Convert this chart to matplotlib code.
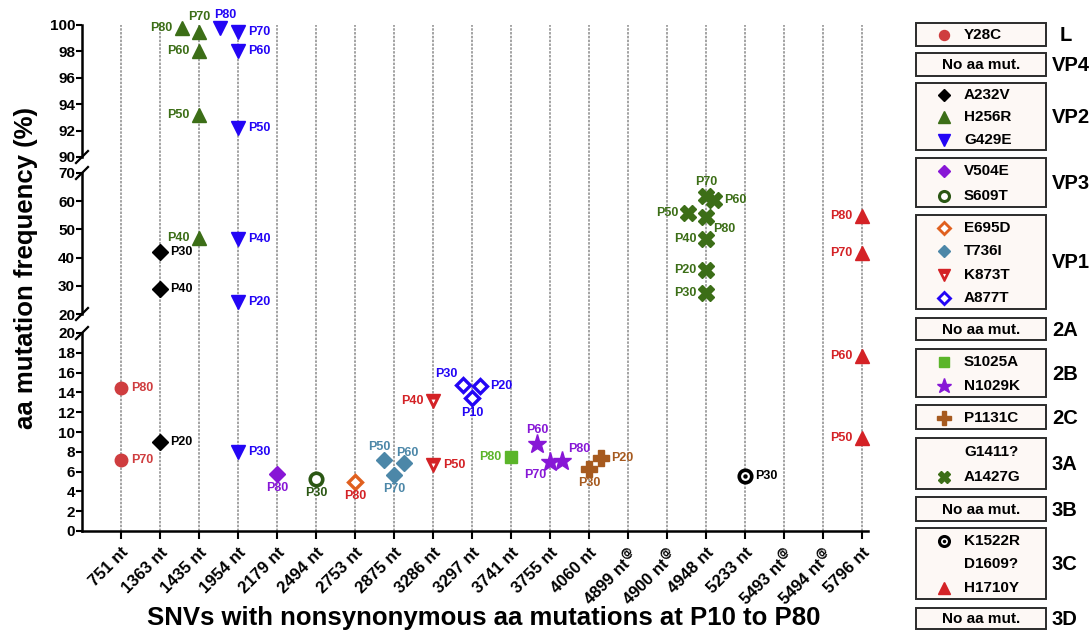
import matplotlib
matplotlib.use('Agg')
import matplotlib.pyplot as plt
from matplotlib.patches import Rectangle

plt.rcParams['font.family'] = ['Liberation Sans', 'DejaVu Sans']
plt.rcParams['font.weight'] = 'bold'

# ---------------- data ----------------
sites = ['751 nt', '1363 nt', '1435 nt', '1954 nt', '2179 nt', '2494 nt', '2753 nt',
         '2875 nt', '3286 nt', '3297 nt', '3741 nt', '3755 nt', '4060 nt', '4899 nt@',
         '4900 nt@', '4948 nt', '5233 nt', '5493 nt@', '5494 nt@', '5796 nt']

Y28C_site = '751 nt'
Y28C_pass = ['P80', 'P70']
Y28C_freq = [14.4, 7.2]

A232V_site = '1363 nt'
A232V_pass = ['P30', 'P40', 'P20']
A232V_freq = [42.0, 28.9, 9.0]

H256R_site = '1435 nt'
H256R_pass = ['P80', 'P70', 'P60', 'P50', 'P40']
H256R_freq = [99.8, 99.5, 98.0, 93.2, 47.0]

G429E_site = '1954 nt'
G429E_pass = ['P80', 'P70', 'P60', 'P50', 'P40', 'P20', 'P30']
G429E_freq = [99.8, 99.5, 98.0, 92.2, 46.6, 24.3, 8.0]

V504E_site = '2179 nt'
V504E_pass = ['P80']
V504E_freq = [5.8]

S609T_site = '2494 nt'
S609T_pass = ['P30']
S609T_freq = [5.3]

E695D_site = '2753 nt'
E695D_pass = ['P80']
E695D_freq = [5.0]

T736I_site = '2875 nt'
T736I_pass = ['P50', 'P60', 'P70']
T736I_freq = [7.2, 6.9, 5.7]

K873T_site = '3286 nt'
K873T_pass = ['P40', 'P50']
K873T_freq = [13.1, 6.7]

A877T_site = '3297 nt'
A877T_pass = ['P30', 'P20', 'P10']
A877T_freq = [14.7, 14.6, 13.4]

S1025A_site = '3741 nt'
S1025A_pass = ['P80']
S1025A_freq = [7.5]

N1029K_site = '3755 nt'
N1029K_pass = ['P60', 'P70', 'P80']
N1029K_freq = [8.8, 7.0, 7.1]

P1131C_site = '4060 nt'
P1131C_pass = ['P30', 'P20']
P1131C_freq = [6.3, 7.4]

A1427G_site = '4948 nt'
A1427G_pass = ['P70', 'P60', 'P50', 'P80', 'P40', 'P20', 'P30']
A1427G_freq = [61.8, 60.3, 55.8, 54.3, 46.6, 35.6, 27.5]

K1522R_site = '5233 nt'
K1522R_pass = ['P30']
K1522R_freq = [5.6]

H1710Y_site = '5796 nt'
H1710Y_pass = ['P80', 'P70', 'P60', 'P50']
H1710Y_freq = [54.6, 41.8, 17.7, 9.4]

# ---------------- styles / placement ----------------
RED = '#cf3d3f'
DKRED = '#d42226'
GREEN = '#3c6e17'
BLUE = '#2305f5'
PURPLE = '#8717d6'
DKGREEN = '#2b5714'
ORANGE = '#e0601f'
STEEL = '#4c87a8'
LIME = '#5bb52a'
BROWN = '#a65a1f'

styles = {
    'Y28C': dict(marker='o', ms=9, mfc=RED, mec=RED),
    'A232V': dict(marker='D', ms=8, mfc='black', mec='black'),
    'H256R': dict(marker='^', ms=10, mfc=GREEN, mec=GREEN),
    'G429E': dict(marker='v', ms=10, mfc=BLUE, mec=BLUE),
    'V504E': dict(marker='D', ms=8, mfc=PURPLE, mec=PURPLE),
    'S609T': dict(marker='o', ms=9, mfc='white', mec=DKGREEN, mew=2.6),
    'E695D': dict(marker='D', ms=7.5, mfc='white', mec=ORANGE, mew=2.4),
    'T736I': dict(marker='D', ms=8, mfc=STEEL, mec=STEEL),
    'K873T': dict(marker='v', ms=10.5, mfc=DKRED, mec=DKRED),
    'A877T': dict(marker='D', ms=7.5, mfc='white', mec=BLUE, mew=2.4),
    'S1025A': dict(marker='s', ms=9, mfc=LIME, mec=LIME),
    'N1029K': dict(marker='*', ms=14, mfc=PURPLE, mec=PURPLE),
    'P1131C': dict(marker='P', ms=12, mfc=BROWN, mec=BROWN),
    'A1427G': dict(marker='X', ms=11, mfc=GREEN, mec=GREEN),
    'K1522R': dict(marker='o', ms=9, mfc='white', mec='black', mew=2.6),
    'H1710Y': dict(marker='^', ms=10, mfc=DKRED, mec=DKRED),
}
# small inner dots drawn on top of some markers
inner = {
    'K873T': dict(marker='v', ms=2.8, mfc='white', mec='white', mew=0),
    'K1522R': dict(marker='o', ms=3.2, mfc='black', mec='black', mew=0),
}
label_colors = {'Y28C': RED, 'A232V': 'black', 'H256R': GREEN, 'G429E': BLUE,
                'V504E': PURPLE, 'S609T': DKGREEN, 'E695D': DKRED, 'T736I': STEEL,
                'K873T': DKRED, 'A877T': BLUE, 'S1025A': LIME, 'N1029K': PURPLE,
                'P1131C': BROWN, 'A1427G': GREEN, 'K1522R': 'black', 'H1710Y': DKRED}

# horizontal jitter (category units) and label placement
jitter = {
    'H256R': [-0.44, 0, 0, 0, 0],
    'G429E': [-0.46, 0, 0, 0, 0, 0, 0],
    'T736I': [-0.26, 0.26, 0],
    'A877T': [-0.23, 0.21, 0],
    'N1029K': [-0.33, 0, 0.31],
    'P1131C': [0, 0.31],
    'A1427G': [0, 0.2, -0.46, 0, 0, 0, 0],
}
offsets = {'r': ((7, 0), 'left', 'center'), 'l': ((-7, 0), 'right', 'center'),
           'a': ((0, 6), 'center', 'bottom'), 'b': ((0, -6), 'center', 'top'),
           'la': ((-4, 4), 'right', 'bottom'), 'lb': ((-3, -5), 'right', 'top'),
           'ra': ((4, 4), 'left', 'bottom'), 'rb': ((5, -4), 'left', 'top'),
           'a_r': ((-4, 5), 'left', 'bottom'), 'a_l': ((5, 5), 'right', 'bottom'),
           'a_r2': ((-6, 3), 'left', 'bottom')}
placement = {
    'Y28C': ['r', 'r'],
    'A232V': ['r', 'r', 'r'],
    'H256R': ['l', 'a', 'l', 'l', 'l'],
    'G429E': ['a_r', 'r', 'r', 'r', 'r', 'r', 'r'],
    'V504E': ['b'], 'S609T': ['b'], 'E695D': ['b'],
    'T736I': ['a_l', 'a_r2', 'b'],
    'K873T': ['l', 'r'],
    'A877T': ['la', 'r', 'b'],
    'S1025A': ['l'],
    'N1029K': ['a', 'lb', 'ra'],
    'P1131C': ['b', 'r'],
    'A1427G': ['a', 'r', 'l', 'rb', 'l', 'l', 'l'],
    'K1522R': ['r'],
    'H1710Y': ['l', 'l', 'l', 'l'],
}

series = [
    ('Y28C', Y28C_site, Y28C_pass, Y28C_freq),
    ('A232V', A232V_site, A232V_pass, A232V_freq),
    ('H256R', H256R_site, H256R_pass, H256R_freq),
    ('G429E', G429E_site, G429E_pass, G429E_freq),
    ('V504E', V504E_site, V504E_pass, V504E_freq),
    ('S609T', S609T_site, S609T_pass, S609T_freq),
    ('E695D', E695D_site, E695D_pass, E695D_freq),
    ('T736I', T736I_site, T736I_pass, T736I_freq),
    ('K873T', K873T_site, K873T_pass, K873T_freq),
    ('A877T', A877T_site, A877T_pass, A877T_freq),
    ('S1025A', S1025A_site, S1025A_pass, S1025A_freq),
    ('N1029K', N1029K_site, N1029K_pass, N1029K_freq),
    ('P1131C', P1131C_site, P1131C_pass, P1131C_freq),
    ('A1427G', A1427G_site, A1427G_pass, A1427G_freq),
    ('K1522R', K1522R_site, K1522R_pass, K1522R_freq),
    ('H1710Y', H1710Y_site, H1710Y_pass, H1710Y_freq),
]

# ---------------- figure layout ----------------
W, H = 1092, 630
fig = plt.figure(figsize=(W / 100, H / 100), dpi=100)
left_px, right_px = 82, 868
x0 = left_px / W
wd = (right_px - left_px) / W


def fax(top_px, bot_px):
    return [x0, 1 - bot_px / H, wd, (bot_px - top_px) / H]


bg = fig.add_axes(fax(25, 531))
ax_top = fig.add_axes(fax(25, 157))
ax_mid = fig.add_axes(fax(173, 314))
ax_bot = fig.add_axes(fax(333, 531))

xlim = (-1, 19.15)
bg.set_xlim(*xlim)
bg.set_xticks(range(len(sites)))
bg.grid(axis='x', color='#8a8a8a', linestyle=(0, (1.6, 0.9)), linewidth=1.1)
bg.tick_params(left=False, bottom=False, labelleft=False, labelbottom=False)
for s in bg.spines.values():
    s.set_visible(False)
bg.set_zorder(0)

for ax, lim, ticks in [(ax_top, (90, 100), range(90, 101, 2)),
                       (ax_mid, (20, 70), range(20, 71, 10)),
                       (ax_bot, (0, 20), range(0, 21, 2))]:
    ax.set_zorder(1)
    ax.patch.set_visible(False)
    ax.set_xlim(*xlim)
    ax.set_ylim(*lim)
    ax.set_yticks(list(ticks))
    ax.spines['top'].set_visible(False)
    ax.spines['right'].set_visible(False)
    ax.spines['left'].set_linewidth(1.8)
    ax.tick_params(axis='y', labelsize=11, width=1.5, length=4, pad=1)
    if ax is not ax_bot:
        ax.spines['bottom'].set_visible(False)
        ax.tick_params(axis='x', bottom=False, labelbottom=False)

ax_bot.spines['bottom'].set_linewidth(1.8)
tick_labels = [s.replace('@', '') + r'$^{@}$' if '@' in s else s for s in sites]
ax_bot.set_xticks(range(len(sites)))
ax_bot.set_xticklabels(tick_labels, rotation=45, ha='right', va='top',
                       rotation_mode='anchor', fontsize=12)
ax_bot.tick_params(axis='x', width=1.5, length=6, pad=4)


def pick_axes(v):
    if v >= 80:
        return ax_top
    if v > 20:
        return ax_mid
    return ax_bot


for name, site, passes, freqs in series:
    xi = sites.index(site)
    dxs = jitter.get(name, [0] * len(passes))
    for p, v, dx, pl in zip(passes, freqs, dxs, placement[name]):
        ax = pick_axes(v)
        x = xi + dx
        ax.plot([x], [v], linestyle='none', clip_on=False, zorder=3, **styles[name])
        if name in inner:
            ax.plot([x], [v], linestyle='none', clip_on=False, zorder=4, **inner[name])
        off, ha, va = offsets[pl]
        ax.annotate(p, (x, v), xytext=off, textcoords='offset points', ha=ha, va=va,
                    fontsize=9, fontweight='bold', color=label_colors[name],
                    annotation_clip=False, zorder=5)

# ---------------- overlay (breaks, legend, titles) ----------------
ov = fig.add_axes([0, 0, 1, 1])
ov.set_xlim(0, W)
ov.set_ylim(H, 0)
ov.axis('off')
ov.set_zorder(10)
ov.patch.set_visible(False)

for yb in (157, 173, 314, 333):
    ov.plot([left_px - 6, left_px + 6], [yb + 6, yb - 6], color='black', lw=1.6)

fig.text(26 / W, 1 - 268 / H, 'aa mutation frequency (%)', rotation=90,
         ha='center', va='center', fontsize=18.5, fontweight='bold')
fig.text(484 / W, 1 - 618 / H, 'SNVs with nonsynonymous aa mutations at P10 to P80',
         ha='center', va='center', fontsize=18.5, fontweight='bold')

groups = [
    ('L', 23, 46, ['Y28C']),
    ('VP4', 53, 76, []),
    ('VP2', 83, 150, ['A232V', 'H256R', 'G429E']),
    ('VP3', 158, 207, ['V504E', 'S609T']),
    ('VP1', 215, 309, ['E695D', 'T736I', 'K873T', 'A877T']),
    ('2A', 318, 340, []),
    ('2B', 349, 397, ['S1025A', 'N1029K']),
    ('2C', 405, 429, ['P1131C']),
    ('3A', 438, 489, ['G1411?', 'A1427G']),
    ('3B', 497, 521, []),
    ('3C', 528, 599, ['K1522R', 'D1609?', 'H1710Y']),
    ('3D', 608, 629, []),
]
box_l, box_r = 916, 1046
for gname, top, bot, entries in groups:
    ov.add_patch(Rectangle((box_l, top), box_r - box_l, bot - top, facecolor='#fdf8f5',
                           edgecolor='#2b2b2b', lw=1.4, zorder=1))
    gx = 1060 if gname == 'L' else 1052
    ov.text(gx, (top + bot) / 2 + 1, gname, ha='left', va='center', fontsize=14.5,
            fontweight='bold')
    if not entries:
        ov.text((box_l + box_r) / 2, (top + bot) / 2 + 0.5, 'No aa mut.', ha='center',
                va='center', fontsize=11, fontweight='bold', zorder=3)
        continue
    n = len(entries)
    step = (bot - top) / n
    for i, e in enumerate(entries):
        yc = top + (i + 0.5) * step + 0.8
        if e in styles:
            st = dict(styles[e])
            st['ms'] = st['ms'] * 0.8
            if 'mew' in st:
                st['mew'] = st['mew'] * 0.85
            ov.plot([944], [yc], linestyle='none', zorder=3, **st)
            if e in inner:
                si = dict(inner[e])
                si['ms'] = si['ms'] * 0.8
                ov.plot([944], [yc], linestyle='none', zorder=4, **si)
        ov.text(964, yc, e, ha='left', va='center', fontsize=11, fontweight='bold',
                zorder=3)

fig.savefig('out.png', dpi=100)
